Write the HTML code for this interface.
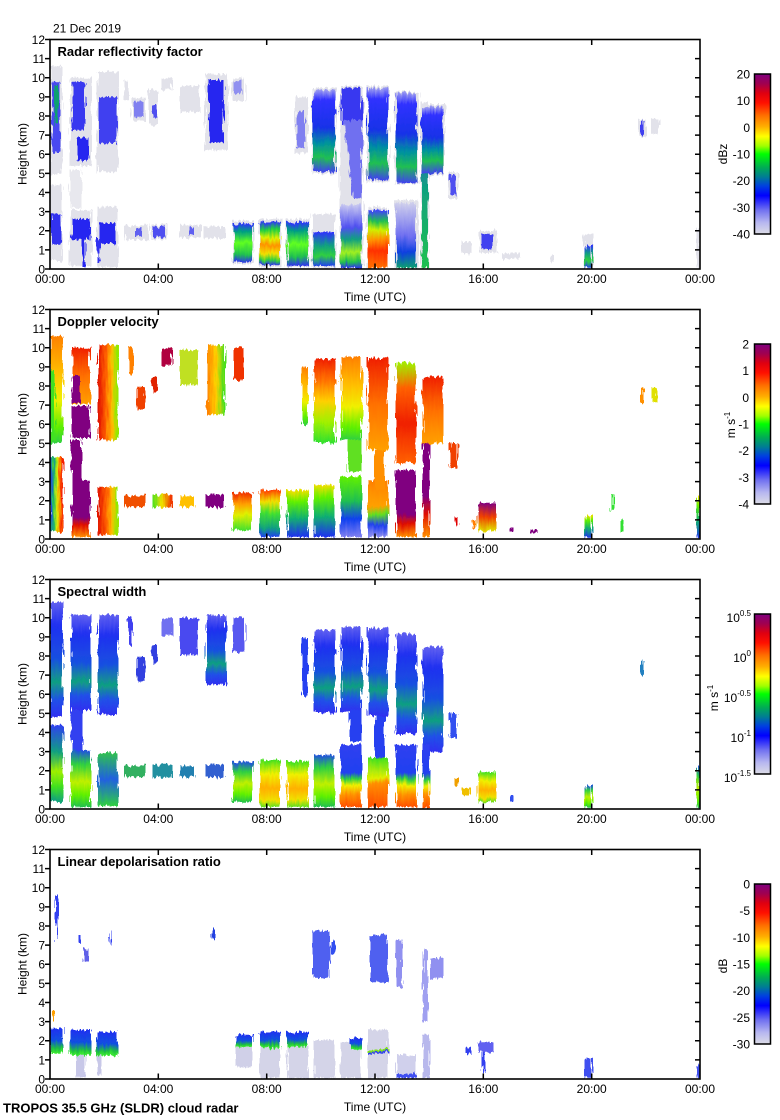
<!DOCTYPE html>
<html><head><meta charset="utf-8"><style>
html,body{margin:0;padding:0;background:#fff;}
svg{display:block;font-family:"Liberation Sans",Arial,sans-serif;}
</style></head><body>
<svg width="780" height="1120" viewBox="0 0 780 1120" xmlns="http://www.w3.org/2000/svg">
<defs>
<clipPath id="c"><rect x="50" y="39.5" width="650" height="229.5"/></clipPath>
<filter id="rough" x="-3%" y="-3%" width="106%" height="106%">
<feTurbulence type="fractalNoise" baseFrequency="0.5 0.06" numOctaves="2" seed="3" result="n"/>
<feDisplacementMap in="SourceGraphic" in2="n" scale="7" xChannelSelector="R" yChannelSelector="G"/>
</filter>
<linearGradient id="cb" x1="0" y1="0" x2="0" y2="1">
<stop offset="0" stop-color="#800080"/><stop offset="0.06" stop-color="#a00050"/><stop offset="0.12" stop-color="#e00010"/><stop offset="0.18" stop-color="#ff1000"/><stop offset="0.26" stop-color="#ff7000"/><stop offset="0.33" stop-color="#ffb000"/><stop offset="0.39" stop-color="#ffff00"/><stop offset="0.45" stop-color="#a0ff00"/><stop offset="0.5" stop-color="#00ff00"/><stop offset="0.58" stop-color="#00b050"/><stop offset="0.64" stop-color="#008090"/><stop offset="0.7" stop-color="#0040e0"/><stop offset="0.76" stop-color="#0000ff"/><stop offset="0.85" stop-color="#7070f0"/><stop offset="0.93" stop-color="#b8b8f0"/><stop offset="1" stop-color="#dcdce6"/>
</linearGradient>
<linearGradient id="rU" x1="0" y1="0" x2="0" y2="1"><stop offset="0" stop-color="#a0a0f0"/><stop offset="0.12" stop-color="#3030ff"/><stop offset="0.45" stop-color="#1830e8"/><stop offset="0.65" stop-color="#0090a0"/><stop offset="0.82" stop-color="#20c050"/><stop offset="1" stop-color="#4040f0"/></linearGradient>
<linearGradient id="gA" x1="0" y1="0" x2="0" y2="1"><stop offset="0" stop-color="#3030ff"/><stop offset="0.2" stop-color="#00a080"/><stop offset="0.5" stop-color="#60ff20"/><stop offset="0.8" stop-color="#20c050"/><stop offset="1" stop-color="#3030f0"/></linearGradient>
<linearGradient id="gB" x1="0" y1="0" x2="0" y2="1"><stop offset="0" stop-color="#3030ff"/><stop offset="0.18" stop-color="#20d040"/><stop offset="0.38" stop-color="#e0f000"/><stop offset="0.55" stop-color="#ff9000"/><stop offset="0.72" stop-color="#f0e000"/><stop offset="0.88" stop-color="#30d040"/><stop offset="1" stop-color="#3030f0"/></linearGradient>
<linearGradient id="gD" x1="0" y1="0" x2="0" y2="1"><stop offset="0" stop-color="#3030ff"/><stop offset="0.4" stop-color="#10a080"/><stop offset="0.7" stop-color="#30d040"/><stop offset="1" stop-color="#2040f0"/></linearGradient>
<linearGradient id="gE" x1="0" y1="0" x2="0" y2="1"><stop offset="0" stop-color="#c8c8f0"/><stop offset="0.35" stop-color="#5050f0"/><stop offset="0.55" stop-color="#10a080"/><stop offset="0.75" stop-color="#a0f020"/><stop offset="0.9" stop-color="#20c050"/><stop offset="1" stop-color="#3030f0"/></linearGradient>
<linearGradient id="gF" x1="0" y1="0" x2="0" y2="1"><stop offset="0" stop-color="#4040ff"/><stop offset="0.2" stop-color="#20c050"/><stop offset="0.35" stop-color="#d0f000"/><stop offset="0.5" stop-color="#ff9000"/><stop offset="0.7" stop-color="#ff3000"/><stop offset="1" stop-color="#ff7000"/></linearGradient>
<linearGradient id="gG" x1="0" y1="0" x2="0" y2="1"><stop offset="0" stop-color="#d0d0ec"/><stop offset="0.5" stop-color="#7070f0"/><stop offset="0.75" stop-color="#1040e0"/><stop offset="1" stop-color="#10a070"/></linearGradient>
<linearGradient id="gH" x1="0" y1="0" x2="0" y2="1"><stop offset="0" stop-color="#3030f0"/><stop offset="0.5" stop-color="#10a080"/><stop offset="1" stop-color="#20c050"/></linearGradient>
<linearGradient id="vOYG" x1="0" y1="0" x2="0" y2="1"><stop offset="0" stop-color="#ff8000"/><stop offset="0.35" stop-color="#ffc000"/><stop offset="0.6" stop-color="#f0f000"/><stop offset="0.85" stop-color="#60f000"/><stop offset="1" stop-color="#30d040"/></linearGradient>
<linearGradient id="vRO" x1="0" y1="0" x2="0" y2="1"><stop offset="0" stop-color="#f02000"/><stop offset="0.5" stop-color="#ff7000"/><stop offset="1" stop-color="#ffa000"/></linearGradient>
<linearGradient id="vROYG" x1="0" y1="0" x2="0" y2="1"><stop offset="0" stop-color="#f02000"/><stop offset="0.25" stop-color="#ff7000"/><stop offset="0.5" stop-color="#ffd000"/><stop offset="0.75" stop-color="#a0f000"/><stop offset="1" stop-color="#30e030"/></linearGradient>
<linearGradient id="hOG" x1="0" y1="0" x2="1" y2="0"><stop offset="0" stop-color="#ff8000"/><stop offset="0.5" stop-color="#ffd000"/><stop offset="1" stop-color="#40e020"/></linearGradient>
<linearGradient id="hRG" x1="0" y1="0" x2="1" y2="0"><stop offset="0" stop-color="#e01000"/><stop offset="0.4" stop-color="#ff6000"/><stop offset="0.7" stop-color="#ffc000"/><stop offset="1" stop-color="#80f000"/></linearGradient>
<linearGradient id="hBR" x1="0" y1="0" x2="1" y2="0"><stop offset="0" stop-color="#2040f0"/><stop offset="0.3" stop-color="#20c060"/><stop offset="0.55" stop-color="#e0f000"/><stop offset="0.8" stop-color="#ff6000"/><stop offset="1" stop-color="#f01000"/></linearGradient>
<linearGradient id="hGYR" x1="0" y1="0" x2="1" y2="0"><stop offset="0" stop-color="#40e020"/><stop offset="0.5" stop-color="#f0e000"/><stop offset="1" stop-color="#f03000"/></linearGradient>
<linearGradient id="vPR" x1="0" y1="0" x2="0" y2="1"><stop offset="0" stop-color="#800080"/><stop offset="0.65" stop-color="#800080"/><stop offset="0.8" stop-color="#e01000"/><stop offset="1" stop-color="#ff9000"/></linearGradient>
<linearGradient id="vL1" x1="0" y1="0" x2="0" y2="1"><stop offset="0" stop-color="#f03000"/><stop offset="0.3" stop-color="#ffa000"/><stop offset="0.6" stop-color="#e0f000"/><stop offset="1" stop-color="#40e030"/></linearGradient>
<linearGradient id="vL1b" x1="0" y1="0" x2="0" y2="1"><stop offset="0" stop-color="#ff4000"/><stop offset="0.25" stop-color="#f0e000"/><stop offset="0.5" stop-color="#40e030"/><stop offset="0.8" stop-color="#10a080"/><stop offset="1" stop-color="#2040f0"/></linearGradient>
<linearGradient id="vL2" x1="0" y1="0" x2="0" y2="1"><stop offset="0" stop-color="#f0e000"/><stop offset="0.25" stop-color="#60f000"/><stop offset="0.6" stop-color="#10b070"/><stop offset="1" stop-color="#2030f0"/></linearGradient>
<linearGradient id="vL3" x1="0" y1="0" x2="0" y2="1"><stop offset="0" stop-color="#60f000"/><stop offset="0.4" stop-color="#20c050"/><stop offset="0.7" stop-color="#1040f0"/><stop offset="1" stop-color="#8080f0"/></linearGradient>
<linearGradient id="vL4" x1="0" y1="0" x2="0" y2="1"><stop offset="0" stop-color="#ff8000"/><stop offset="0.45" stop-color="#ffa000"/><stop offset="0.6" stop-color="#60e020"/><stop offset="0.8" stop-color="#2040f0"/><stop offset="1" stop-color="#9090f0"/></linearGradient>
<linearGradient id="vGRO" x1="0" y1="0" x2="0" y2="1"><stop offset="0" stop-color="#a0f000"/><stop offset="0.25" stop-color="#ff6000"/><stop offset="0.6" stop-color="#f02000"/><stop offset="1" stop-color="#ff6000"/></linearGradient>
<linearGradient id="vMix" x1="0" y1="0" x2="0" y2="1"><stop offset="0" stop-color="#800080"/><stop offset="0.5" stop-color="#f04000"/><stop offset="1" stop-color="#e0e000"/></linearGradient>
<linearGradient id="sU" x1="0" y1="0" x2="0" y2="1"><stop offset="0" stop-color="#6060f0"/><stop offset="0.2" stop-color="#2030f0"/><stop offset="0.5" stop-color="#1850e0"/><stop offset="0.7" stop-color="#10a080"/><stop offset="0.85" stop-color="#2050e8"/><stop offset="1" stop-color="#3030f0"/></linearGradient>
<linearGradient id="sL0" x1="0" y1="0" x2="0" y2="1"><stop offset="0" stop-color="#3040f0"/><stop offset="0.35" stop-color="#10a080"/><stop offset="0.6" stop-color="#a0f000"/><stop offset="0.8" stop-color="#40e020"/><stop offset="1" stop-color="#10a080"/></linearGradient>
<linearGradient id="sL1" x1="0" y1="0" x2="0" y2="1"><stop offset="0" stop-color="#2050e0"/><stop offset="0.25" stop-color="#30d040"/><stop offset="0.55" stop-color="#c0f000"/><stop offset="0.8" stop-color="#60f000"/><stop offset="1" stop-color="#20c050"/></linearGradient>
<linearGradient id="sLg" x1="0" y1="0" x2="0" y2="1"><stop offset="0" stop-color="#30c050"/><stop offset="0.5" stop-color="#2060e0"/><stop offset="1" stop-color="#30d040"/></linearGradient>
<linearGradient id="sL2" x1="0" y1="0" x2="0" y2="1"><stop offset="0" stop-color="#40e020"/><stop offset="0.3" stop-color="#f0f000"/><stop offset="0.6" stop-color="#ffb000"/><stop offset="0.85" stop-color="#f0e000"/><stop offset="1" stop-color="#60e020"/></linearGradient>
<linearGradient id="sL3" x1="0" y1="0" x2="0" y2="1"><stop offset="0" stop-color="#3040f0"/><stop offset="0.45" stop-color="#2040f0"/><stop offset="0.55" stop-color="#30d040"/><stop offset="0.65" stop-color="#f0f000"/><stop offset="0.8" stop-color="#ff9000"/><stop offset="1" stop-color="#ff5000"/></linearGradient>
<linearGradient id="sL4" x1="0" y1="0" x2="0" y2="1"><stop offset="0" stop-color="#40e020"/><stop offset="0.4" stop-color="#e0f000"/><stop offset="0.5" stop-color="#ff9000"/><stop offset="1" stop-color="#ff5000"/></linearGradient>
<linearGradient id="lT" x1="0" y1="0" x2="0" y2="1"><stop offset="0" stop-color="#2030f0"/><stop offset="0.5" stop-color="#1050e0"/><stop offset="0.8" stop-color="#20c040"/><stop offset="1" stop-color="#40f030"/></linearGradient>

<g id="axes">
<rect x="50" y="39.5" width="650" height="229.5" fill="none" stroke="#000" stroke-width="1.6"/>
<path d="M45,269H50M45,249.9H50M45,230.75H50M45,211.6H50M45,192.5H50M45,173.4H50M45,154.25H50M45,135.1H50M45,116H50M45,96.9H50M45,77.75H50M45,58.6H50M45,39.5H50M695,249.9H700M695,230.75H700M695,211.6H700M695,192.5H700M695,173.4H700M695,154.25H700M695,135.1H700M695,116H700M695,96.9H700M695,77.75H700M695,58.6H700M158.3,39.5V45M266.7,39.5V45M375,39.5V45M483.3,39.5V45M591.7,39.5V45M158.3,269V263.5M266.7,269V263.5M375,269V263.5M483.3,269V263.5M591.7,269V263.5" stroke="#000" stroke-width="1.5" fill="none"/>
<g font-size="12" text-anchor="end" fill="#000">
<text x="45" y="273.5">0</text><text x="45" y="254.4">1</text><text x="45" y="235.2">2</text><text x="45" y="216.1">3</text><text x="45" y="197">4</text><text x="45" y="177.9">5</text><text x="45" y="158.7">6</text><text x="45" y="139.6">7</text><text x="45" y="120.5">8</text><text x="45" y="101.4">9</text><text x="45" y="82.2">10</text><text x="45" y="63.1">11</text><text x="45" y="44">12</text>
</g>
<g font-size="12" text-anchor="middle" fill="#000">
<text x="50" y="283">00:00</text><text x="158.3" y="283">04:00</text><text x="266.7" y="283">08:00</text><text x="375" y="283">12:00</text><text x="483.3" y="283">16:00</text><text x="591.7" y="283">20:00</text><text x="700" y="283">00:00</text>
<text x="375" y="301">Time (UTC)</text>
<text transform="translate(26.5,154) rotate(-90)">Height (km)</text>
</g>
</g>
</defs>

<!-- ================= PANEL 1 ================= -->
<g>
<g clip-path="url(#c)"><g filter="url(#rough)">
<g fill="#e2e2ea">
<rect x="50" y="66" width="12" height="108"/><rect x="50" y="185" width="12" height="76"/>
<rect x="70" y="78" width="22" height="88"/><rect x="70" y="170" width="12" height="38" fill="#e8e8ee"/>
<rect x="70" y="210" width="22" height="56"/><rect x="97" y="72" width="21" height="100"/>
<rect x="97" y="207" width="21" height="60"/><rect x="124" y="80" width="4" height="20"/>
<rect x="132" y="98" width="14" height="23"/><rect x="148" y="90" width="10" height="35"/>
<rect x="161" y="78" width="11" height="12"/><rect x="180" y="86" width="20" height="26"/>
<rect x="205" y="74" width="23" height="76"/><rect x="232" y="78" width="13" height="23"/>
<rect x="125" y="225" width="24" height="15"/><rect x="151" y="225" width="16" height="14"/>
<rect x="179" y="225" width="22" height="13"/><rect x="204" y="227" width="22" height="11"/>
<rect x="233" y="221" width="21" height="43"/><rect x="259" y="219" width="22" height="48"/>
<rect x="286" y="219" width="23" height="48"/><rect x="312" y="214" width="24" height="54"/>
<rect x="340" y="202" width="23" height="66"/><rect x="367" y="207" width="21" height="61"/>
<rect x="395" y="200" width="23" height="68"/><rect x="312" y="88" width="24" height="86"/>
<rect x="340" y="86" width="23" height="116"/><rect x="367" y="86" width="22" height="96"/>
<rect x="395" y="92" width="24" height="92"/><rect x="421" y="105" width="24" height="70"/>
<rect x="421" y="102" width="8" height="166"/><rect x="295" y="97" width="13" height="56"/>
<rect x="449" y="172" width="9" height="27"/><rect x="461" y="242" width="10" height="12"/>
<rect x="479" y="231" width="18" height="22"/><rect x="502" y="253" width="18" height="6"/>
<rect x="550" y="256" width="4" height="7"/><rect x="584" y="234" width="9" height="34"/>
<rect x="639" y="120" width="7" height="17"/><rect x="651" y="119" width="8" height="15"/>
<rect x="697" y="228" width="3" height="40"/>
</g>
<rect x="52" y="82" width="8" height="70" fill="#4a4af0"/><rect x="55" y="85" width="3" height="40" fill="#10a070"/>
<rect x="51" y="214" width="10" height="30" fill="#3030f0"/>
<rect x="72" y="82" width="13" height="48" fill="#3838f0"/><rect x="77" y="138" width="12" height="23" fill="#2828f0"/>
<rect x="72" y="219" width="18" height="20" fill="#2828f0"/><rect x="82" y="238" width="4" height="29" fill="#2828f0"/>
<rect x="99" y="97" width="18" height="46" fill="#4040f0"/>
<rect x="99" y="223" width="16" height="21" fill="#2828f0"/><rect x="97" y="238" width="3" height="24" fill="#3030f0"/>
<rect x="135" y="101" width="8" height="16" fill="#8080f0"/><rect x="153" y="105" width="4" height="13" fill="#5050f0"/>
<rect x="135" y="227" width="7" height="9" fill="#6060f0"/><rect x="153" y="227" width="12" height="10" fill="#5050f0"/>
<rect x="188" y="227" width="7" height="8" fill="#6060f0"/>
<rect x="209" y="80" width="15" height="63" fill="#2828f0"/>
<rect x="234" y="81" width="7" height="13" fill="#9090f0"/>
<rect x="297" y="112" width="8" height="36" fill="#8080f0"/>
<rect x="234" y="224" width="19" height="38" fill="url(#gA)"/>
<rect x="260" y="222" width="20" height="43" fill="url(#gB)"/>
<rect x="287" y="222" width="21" height="44" fill="url(#gA)"/>
<rect x="313" y="232" width="22" height="34" fill="url(#gD)"/>
<rect x="341" y="205" width="21" height="63" fill="url(#gE)"/>
<rect x="368" y="210" width="20" height="58" fill="url(#gF)"/>
<rect x="396" y="203" width="20" height="65" fill="url(#gG)"/>
<rect x="422" y="107" width="6" height="161" fill="url(#gH)"/>
<rect x="313" y="90" width="22" height="82" fill="url(#rU)"/>
<rect x="341" y="88" width="21" height="35" fill="#3838f0"/>
<polygon points="344,120 362,120 362,198 353,198" fill="#7070f0"/>
<rect x="368" y="88" width="20" height="92" fill="url(#rU)"/>
<rect x="396" y="93" width="21" height="90" fill="url(#rU)"/>
<rect x="422" y="107" width="21" height="66" fill="url(#rU)"/>
<rect x="450" y="175" width="6" height="20" fill="#5050f0"/>
<rect x="481" y="234" width="12" height="15" fill="#4040f0"/>
<rect x="585" y="245" width="7" height="23" fill="url(#gD)"/>
<rect x="640" y="121" width="4" height="14" fill="#4040f0"/>
</g></g>
<use href="#axes"/>
<text x="57.5" y="56" font-size="13" font-weight="bold">Radar reflectivity factor</text>
<rect x="754.5" y="74" width="16" height="160" fill="url(#cb)" stroke="#000" stroke-width="1.5"/>
<g font-size="12" text-anchor="end"><text x="750" y="78.5">20</text><text x="750" y="105.2">10</text><text x="750" y="131.8">0</text><text x="750" y="158.5">-10</text><text x="750" y="185.2">-20</text><text x="750" y="211.8">-30</text><text x="750" y="238.5">-40</text></g>
<text transform="translate(727,154) rotate(-90)" font-size="12" text-anchor="middle">dBz</text>
</g>

<!-- ================= PANEL 2 ================= -->
<g transform="translate(0,270)">
<g clip-path="url(#c)"><g filter="url(#rough)">
<rect x="50" y="66" width="13" height="107" fill="url(#vOYG)"/><rect x="50" y="100" width="5" height="70" fill="#40e020"/>
<rect x="72" y="78" width="18" height="56" fill="url(#vRO)"/><rect x="72" y="105" width="8" height="28" fill="#800080"/>
<rect x="72" y="136" width="18" height="32" fill="#800080"/><rect x="71" y="170" width="11" height="40" fill="#800080"/>
<rect x="98" y="75" width="20" height="95" fill="url(#hRG)"/>
<rect x="129" y="78" width="4" height="27" fill="#ff8000"/>
<rect x="137" y="117" width="8" height="23" fill="#f04000"/>
<rect x="152" y="107" width="6" height="15" fill="#e02000"/>
<rect x="162" y="78" width="10" height="18" fill="#b00040"/>
<rect x="180" y="80" width="18" height="35" fill="#c0e020"/>
<rect x="207" y="75" width="18" height="70" fill="url(#hOG)"/>
<rect x="234" y="77" width="10" height="33" fill="#f03000"/>
<rect x="50" y="187" width="13" height="75" fill="url(#hBR)"/>
<rect x="72" y="210" width="18" height="57" fill="url(#vPR)"/>
<rect x="98" y="217" width="20" height="48" fill="url(#hRG)"/>
<rect x="125" y="225" width="20" height="12" fill="#f05000"/>
<rect x="152" y="225" width="20" height="12" fill="url(#hGYR)"/>
<rect x="180" y="226" width="15" height="11" fill="#ffc000"/>
<rect x="206" y="225" width="18" height="12" fill="#800080"/>
<rect x="233" y="223" width="19" height="37" fill="url(#vL1)"/>
<rect x="260" y="220" width="20" height="47" fill="url(#vL1b)"/>
<rect x="287" y="220" width="21" height="47" fill="url(#vL2)"/>
<rect x="314" y="215" width="21" height="52" fill="url(#vL2)"/>
<rect x="341" y="207" width="21" height="60" fill="url(#vL3)"/>
<rect x="368" y="210" width="20" height="57" fill="url(#vL4)"/>
<rect x="396" y="200" width="20" height="67" fill="url(#vPR)"/>
<rect x="423" y="150" width="7" height="117" fill="url(#vPR)"/>
<rect x="302" y="97" width="6" height="58" fill="url(#vOYG)"/>
<rect x="314" y="89" width="21" height="84" fill="url(#vROYG)"/>
<rect x="341" y="87" width="21" height="83" fill="url(#vOYG)"/>
<rect x="348" y="170" width="14" height="32" fill="#60e020"/>
<rect x="368" y="88" width="20" height="92" fill="url(#vRO)"/>
<rect x="375" y="180" width="10" height="40" fill="#ff9000"/>
<rect x="396" y="93" width="20" height="100" fill="url(#vGRO)"/>
<rect x="423" y="107" width="20" height="66" fill="url(#vRO)"/>
<rect x="450" y="173" width="8" height="25" fill="#f04000"/>
<rect x="455" y="247" width="3" height="8" fill="#e00000"/>
<rect x="472" y="250" width="4" height="8" fill="#ff8000"/>
<rect x="478" y="233" width="18" height="28" fill="url(#vMix)"/>
<rect x="508" y="258" width="5" height="4" fill="#800080"/>
<rect x="530" y="260" width="8" height="3" fill="#800080"/>
<rect x="585" y="245" width="7" height="23" fill="url(#vL2)"/>
<rect x="611" y="225" width="3" height="15" fill="#30e030"/>
<rect x="620" y="250" width="3" height="12" fill="#30e030"/>
<rect x="640" y="118" width="4" height="15" fill="#ff9000"/>
<rect x="652" y="118" width="5" height="14" fill="#e0e000"/>
<rect x="697" y="225" width="3" height="43" fill="url(#vL2)"/>
</g></g>
<use href="#axes"/>
<text x="57.5" y="56" font-size="13" font-weight="bold">Doppler velocity</text>
<rect x="754.5" y="74" width="16" height="160" fill="url(#cb)" stroke="#000" stroke-width="1.5"/>
<g font-size="12" text-anchor="end"><text x="749" y="78.5">2</text><text x="749" y="105.2">1</text><text x="749" y="131.8">0</text><text x="749" y="158.5">-1</text><text x="749" y="185.2">-2</text><text x="749" y="211.8">-3</text><text x="749" y="238.5">-4</text></g>
<text transform="translate(735,155) rotate(-90)" font-size="12" text-anchor="middle">m s<tspan font-size="8" dy="-5">-1</tspan></text>
</g>

<!-- ================= PANEL 3 ================= -->
<g transform="translate(0,540)">
<g clip-path="url(#c)"><g filter="url(#rough)">
<rect x="50" y="62" width="13" height="115" fill="url(#sU)"/>
<rect x="71" y="75" width="20" height="95" fill="url(#sU)"/>
<rect x="71" y="170" width="12" height="40" fill="#3040f0"/>
<rect x="98" y="75" width="20" height="100" fill="url(#sU)"/>
<rect x="128" y="78" width="4" height="28" fill="#4040f0"/>
<rect x="137" y="117" width="8" height="25" fill="#3040e0"/>
<rect x="152" y="105" width="6" height="18" fill="#3040e0"/>
<rect x="162" y="78" width="11" height="18" fill="#7070f0"/>
<rect x="180" y="78" width="18" height="37" fill="#4848f0"/>
<rect x="206" y="75" width="20" height="70" fill="url(#sU)"/>
<rect x="233" y="77" width="12" height="35" fill="#5858f0"/>
<rect x="302" y="98" width="6" height="58" fill="#2840f0"/>
<rect x="314" y="90" width="21" height="83" fill="url(#sU)"/>
<rect x="341" y="87" width="21" height="85" fill="url(#sU)"/>
<rect x="350" y="170" width="12" height="32" fill="#2840f0"/>
<rect x="368" y="88" width="20" height="88" fill="url(#sU)"/>
<rect x="375" y="176" width="10" height="44" fill="#2840f0"/>
<rect x="396" y="94" width="21" height="100" fill="url(#sU)"/>
<rect x="423" y="107" width="20" height="105" fill="url(#sU)"/>
<rect x="450" y="173" width="7" height="25" fill="#3050f0"/>
<rect x="640" y="121" width="4" height="14" fill="#2080c0"/>
<rect x="50" y="185" width="13" height="77" fill="url(#sL0)"/>
<rect x="71" y="210" width="20" height="57" fill="url(#sL1)"/>
<rect x="98" y="213" width="20" height="53" fill="url(#sLg)"/>
<rect x="125" y="225" width="20" height="12" fill="#30b060"/>
<rect x="152" y="225" width="20" height="12" fill="#2090a0"/>
<rect x="180" y="226" width="15" height="11" fill="#2080b0"/>
<rect x="206" y="225" width="18" height="12" fill="#3060d0"/>
<rect x="233" y="222" width="20" height="40" fill="url(#sL1)"/>
<rect x="260" y="220" width="20" height="47" fill="url(#sL2)"/>
<rect x="287" y="221" width="21" height="46" fill="url(#sL2)"/>
<rect x="314" y="215" width="21" height="52" fill="url(#sL1)"/>
<rect x="341" y="205" width="21" height="62" fill="url(#sL3)"/>
<rect x="368" y="218" width="20" height="49" fill="url(#sL4)"/>
<rect x="396" y="205" width="21" height="62" fill="url(#sL3)"/>
<rect x="423" y="205" width="7" height="63" fill="url(#sL3)"/>
<rect x="455" y="238" width="3" height="8" fill="#f0a000"/>
<rect x="462" y="248" width="8" height="8" fill="#f0c000"/>
<rect x="478" y="232" width="18" height="30" fill="url(#sL2)"/>
<rect x="510" y="256" width="4" height="6" fill="#3050f0"/>
<rect x="585" y="245" width="7" height="23" fill="url(#sL1)"/>
<rect x="697" y="225" width="3" height="43" fill="url(#sL1)"/>
</g></g>
<use href="#axes"/>
<text x="57.5" y="56" font-size="13" font-weight="bold">Spectral width</text>
<rect x="754.5" y="74" width="16" height="160" fill="url(#cb)" stroke="#000" stroke-width="1.5"/>
<g font-size="12" text-anchor="end">
<text x="751" y="82">10<tspan font-size="8" dy="-6">0.5</tspan></text>
<text x="751" y="122">10<tspan font-size="8" dy="-6">0</tspan></text>
<text x="751" y="162">10<tspan font-size="8" dy="-6">-0.5</tspan></text>
<text x="751" y="202">10<tspan font-size="8" dy="-6">-1</tspan></text>
<text x="751" y="242">10<tspan font-size="8" dy="-6">-1.5</tspan></text>
</g>
<text transform="translate(718,158) rotate(-90)" font-size="12" text-anchor="middle">m s<tspan font-size="8" dy="-5">-1</tspan></text>
</g>

<!-- ================= PANEL 4 ================= -->
<g transform="translate(0,810)">
<g clip-path="url(#c)"><g filter="url(#rough)">
<rect x="50" y="218" width="13" height="25" fill="url(#lT)"/>
<rect x="52" y="200" width="2" height="12" fill="#ffa000"/>
<rect x="56" y="85" width="2" height="45" fill="#3040f0"/>
<rect x="70" y="220" width="21" height="25" fill="url(#lT)"/>
<rect x="76" y="245" width="10" height="22" fill="#c8c8e8"/>
<rect x="97" y="222" width="21" height="24" fill="url(#lT)"/>
<rect x="97" y="245" width="5" height="20" fill="#c8c8e8"/>
<rect x="110" y="120" width="2" height="15" fill="#3040f0"/>
<rect x="78" y="125" width="2" height="8" fill="#3040f0"/>
<rect x="84" y="139" width="5" height="13" fill="#6060e8"/>
<rect x="212" y="118" width="2" height="12" fill="#2040e0"/>
<rect x="236" y="225" width="17" height="12" fill="url(#lT)"/>
<rect x="236" y="237" width="17" height="20" fill="#d0d0e8"/>
<rect x="260" y="222" width="20" height="16" fill="url(#lT)"/>
<rect x="260" y="238" width="20" height="30" fill="#d4d4e8"/>
<rect x="287" y="222" width="20" height="15" fill="url(#lT)"/>
<rect x="287" y="237" width="21" height="31" fill="#d4d4e8"/>
<rect x="314" y="230" width="21" height="38" fill="#d4d4e8"/>
<rect x="341" y="232" width="20" height="36" fill="#d4d4e8"/>
<rect x="350" y="228" width="12" height="12" fill="url(#lT)"/>
<rect x="368" y="220" width="20" height="48" fill="#d4d4e8"/>
<rect x="368" y="239" width="20" height="2" fill="#80e020"/>
<rect x="368" y="241" width="20" height="2" fill="#3040f0"/>
<rect x="396" y="245" width="20" height="23" fill="#d0d0ec"/>
<rect x="396" y="264" width="20" height="4" fill="#4050f0"/>
<rect x="423" y="224" width="7" height="44" fill="#b8b8ec"/>
<rect x="313" y="121" width="17" height="47" fill="#5060f0"/>
<rect x="331" y="131" width="4" height="13" fill="#3050f0"/>
<rect x="370" y="125" width="18" height="47" fill="#5060f0"/>
<rect x="396" y="130" width="6" height="48" fill="#9090f0"/>
<rect x="423" y="140" width="5" height="72" fill="#a0a0f0"/>
<rect x="430" y="148" width="13" height="20" fill="#9090f0"/>
<rect x="466" y="238" width="4" height="6" fill="#3040f0"/>
<rect x="478" y="232" width="16" height="10" fill="#6060f0"/>
<rect x="482" y="242" width="3" height="20" fill="#3040f0"/>
<rect x="585" y="248" width="7" height="20" fill="#4050f0"/>
<rect x="697" y="255" width="3" height="13" fill="#4050f0"/>
</g></g>
<use href="#axes"/>
<text x="57.5" y="56" font-size="13" font-weight="bold">Linear depolarisation ratio</text>
<rect x="754.5" y="74" width="16" height="160" fill="url(#cb)" stroke="#000" stroke-width="1.5"/>
<g font-size="12" text-anchor="end"><text x="750" y="78.5">0</text><text x="750" y="105.2">-5</text><text x="750" y="131.8">-10</text><text x="750" y="158.5">-15</text><text x="750" y="185.2">-20</text><text x="750" y="211.8">-25</text><text x="750" y="238.5">-30</text></g>
<text transform="translate(727,156) rotate(-90)" font-size="12" text-anchor="middle">dB</text>
</g>

<text x="53" y="32.5" font-size="12">21 Dec 2019</text>
<text x="3" y="1112.5" font-size="13" font-weight="bold">TROPOS 35.5 GHz (SLDR) cloud radar</text>
</svg>
</body></html>
